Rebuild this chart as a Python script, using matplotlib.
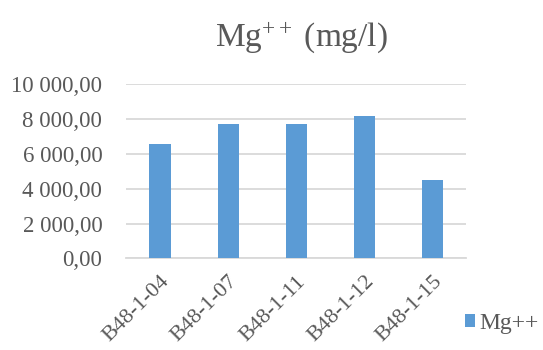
import matplotlib
matplotlib.use("Agg")
import matplotlib.pyplot as plt
from matplotlib.ticker import FuncFormatter

categories = ["B48-1-04", "B48-1-07", "B48-1-11", "B48-1-12", "B48-1-15"]
values = [6590, 7740, 7740, 8200, 4490]
series_name = "Mg++"
title = r"Mg$^{\mathrm{++}}$ (mg/l)"

plt.rcParams["font.family"] = ["Liberation Serif", "DejaVu Serif"]
plt.rcParams["mathtext.fontset"] = "custom"
plt.rcParams["mathtext.rm"] = "Liberation Serif"
plt.rcParams["mathtext.it"] = "Liberation Serif:italic"
plt.rcParams["mathtext.bf"] = "Liberation Serif:bold"

text_color = "#595959"
bar_color = "#5b9bd5"
grid_color = "#d9d9d9"

fig = plt.figure(figsize=(5.43, 3.5), dpi=100)
ax = fig.add_axes([0.232, 0.262, 0.627, 0.497])

x = list(range(len(categories)))
bars = ax.bar(x, values, width=0.31, color=bar_color, label=series_name, zorder=3)

ax.set_xlim(-0.5, len(categories) - 0.5)
ax.set_ylim(0, 10000)
ax.set_yticks([0, 2000, 4000, 6000, 8000, 10000])

def fmt(v, pos):
    s = f"{v:,.2f}"
    return s.replace(",", " ").replace(".", ",")

ax.yaxis.set_major_formatter(FuncFormatter(fmt))
ax.grid(axis="y", color=grid_color, linewidth=1.3, zorder=0)
for sp in ["top", "right", "left"]:
    ax.spines[sp].set_visible(False)
ax.spines["bottom"].set_color(grid_color)
ax.spines["bottom"].set_linewidth(1.3)
ax.tick_params(axis="y", length=0, labelsize=16.5, colors=text_color, pad=17)
ax.set_xticks(x)
ax.set_xticklabels(categories, rotation=45, ha="right", va="top", rotation_mode="anchor")
ax.tick_params(axis="x", length=0, labelsize=16, colors=text_color, pad=10)

fig.text(0.555, 0.894, title, ha="center", va="center", fontsize=24, color=text_color)

leg = fig.legend(handles=[bars], labels=[series_name], loc="center left",
                 bbox_to_anchor=(0.856, 0.075), frameon=False, fontsize=17,
                 handlelength=0.45, handleheight=0.45, handletextpad=0.15,
                 borderaxespad=0, borderpad=0)
for t in leg.get_texts():
    t.set_color(text_color)

fig.savefig("out.png", dpi=100)
